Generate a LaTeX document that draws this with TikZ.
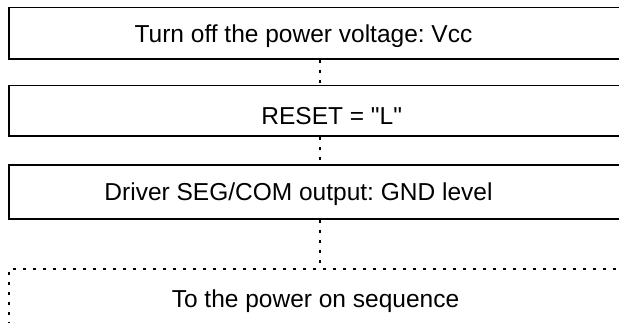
\documentclass[tikz,border=0pt]{standalone}
\usepackage{fontspec}
\setmainfont{Liberation Sans}[Ligatures=TeXOff]
\usepackage{tikz}
\frenchspacing

\begin{document}
\begin{tikzpicture}[x=1pt, y=1pt,
  stepbox/.style={draw, line width=1.6pt, minimum width=622pt, inner sep=0pt},
  endbox/.style={draw, line width=2.8pt, dash pattern=on 2.8pt off 7.2pt,
    minimum width=622pt, inner sep=0pt},
  dotline/.style={line width=2.8pt, dash pattern=on 2.8pt off 7.2pt},
  steptext/.style={anchor=base, inner sep=0pt, font=\fontsize{24.5}{29}\selectfont}]
  % Canvas
  \useasboundingbox (0,0) rectangle (619,322);
  \clip (0,0) rectangle (619,322);
  % Sequence boxes
  \node[stepbox, minimum height=51.5pt] (off) at (320,288.75) {};
  \node[stepbox, minimum height=50.5pt] (reset) at (320,211.25) {};
  \node[stepbox, minimum height=54pt] (driver) at (320,130) {};
  % Next sequence (dotted)
  \node[endbox, minimum height=73pt] (poweron) at (320,16.5) {};
  % Texts
  \node[steptext] (offtxt) at (303.5,279) {Turn off the power voltage: Vcc};
  \node[steptext] (resettxt) at (331.7,197) {RESET = "L"};
  \node[steptext] (drivertxt) at (298.5,122) {Driver SEG/COM output: GND level};
  \node[steptext] (powerontxt) at (315.5,15) {To the power on sequence};
  % Dotted links
  \draw[dotline] (off.south) -- (reset.north);
  \draw[dotline] (reset.south) -- (driver.north);
  \draw[dotline] (driver.south) -- (poweron.north);
\end{tikzpicture}
\end{document}
